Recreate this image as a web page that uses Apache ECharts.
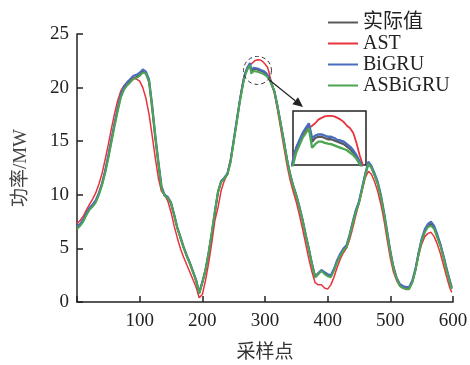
<!DOCTYPE html>
<html>
<head>
<meta charset="utf-8">
<script src="https://cdn.jsdelivr.net/npm/echarts@6/dist/echarts.min.js"></script>
</head>
<body style="margin:0;background:#fff;">
<div id="chart" style="width:470px;height:365px;"></div>
<script type="text/javascript">
// 采样点
var xs = [0,5,10,15,20,25,30,35,40,45,50,55,60,65,70,75,80,85,90,95,100,105,110,115,120,125,130,135,140,145,150,155,160,165,170,175,180,185,190,195,200,205,210,215,220,225,230,235,240,245,250,255,260,
    264,266,268,270,272,274,276,277,278,280,282,284,286,288,290,292,294,296,298,300,302,304,306,308,310,312,
    315,320,325,330,335,340,345,350,355,360,365,370,375,380,385,390,395,400,405,410,415,420,425,430,435,440,445,450,455,460,465,470,475,480,485,490,495,500,505,510,515,520,525,530,535,540,545,550,555,560,565,570,575,580,585,590,595,598];

// 实际值
var actual = [6.9,7.2,7.6,8.2,8.7,9.0,9.4,10.1,11.0,12.2,13.6,15.1,16.6,18.0,19.2,19.9,20.3,20.6,20.9,21.0,21.2,21.5,21.3,20.5,18.0,15.2,12.8,10.5,9.9,9.7,9.2,8.1,6.9,6.0,5.1,4.3,3.6,2.8,2.0,0.8,1.8,2.9,4.5,6.3,8.3,10.2,11.2,11.5,11.9,13.1,15.0,16.9,18.8,
    20.1,20.7,21.2,21.5,21.8,22.0,22.2,22.25,21.55,21.7,21.75,21.75,21.7,21.65,21.65,21.6,21.55,21.5,21.45,21.35,21.25,21.1,20.9,20.65,20.35,20.05,
    19.6,18.2,16.6,15.0,13.3,11.9,10.8,9.9,8.8,7.6,6.2,4.9,3.5,2.3,2.6,2.9,2.7,2.5,2.4,3.0,3.8,4.4,4.9,5.2,6.2,7.4,8.5,9.3,10.6,11.9,12.9,12.5,11.8,11.0,9.8,8.2,6.4,4.6,3.2,2.2,1.6,1.4,1.3,1.3,1.9,3.0,4.5,5.8,6.6,7.1,7.3,6.9,6.1,5.3,4.2,3.0,1.9,1.3];

// AST
var ast = [7.3,7.6,8.0,8.6,9.1,9.6,10.2,11.0,12.0,13.3,14.7,16.2,17.6,18.8,19.7,20.2,20.5,20.7,20.9,20.8,20.6,20.0,19.0,17.5,15.5,13.4,11.5,10.3,10.0,9.4,8.4,7.1,6.0,5.0,4.2,3.5,2.8,2.1,1.4,0.4,0.7,2.0,3.6,5.5,7.6,8.8,10.4,11.3,12.0,13.3,15.0,16.9,18.9,
    20.3,20.9,21.3,21.6,21.8,21.95,22.1,22.15,22.2,22.3,22.45,22.52,22.58,22.6,22.6,22.58,22.52,22.45,22.35,22.2,22.1,21.9,21.5,21.0,20.6,20.2,
    19.5,17.9,16.2,14.5,12.8,11.4,10.3,9.3,8.1,6.8,5.4,4.0,2.8,1.8,1.6,1.6,1.3,1.2,1.6,2.3,3.2,4.0,4.6,5.0,5.8,6.9,8.1,9.2,10.4,11.6,12.2,11.9,11.2,10.3,9.1,7.6,5.8,4.1,2.8,2.0,1.5,1.3,1.2,1.3,1.8,2.9,4.3,5.4,6.1,6.4,6.5,6.1,5.4,4.5,3.4,2.3,1.3,0.9];

// BiGRU
var bigru = [7.0,7.3,7.7,8.3,8.8,9.1,9.5,10.2,11.1,12.3,13.7,15.2,16.7,18.1,19.4,20.1,20.5,20.8,21.1,21.2,21.4,21.7,21.5,20.8,18.4,15.6,13.1,10.8,10.0,9.8,9.3,8.2,7.0,6.1,5.2,4.4,3.7,2.9,2.1,0.9,1.9,3.0,4.6,6.4,8.4,10.3,11.3,11.6,12.0,13.2,15.1,17.0,18.9,
    20.2,20.8,21.3,21.6,21.9,22.1,22.3,22.35,21.7,21.8,21.85,21.85,21.8,21.75,21.75,21.7,21.62,21.6,21.55,21.45,21.35,21.2,21.0,20.75,20.45,20.15,
    19.7,18.3,16.7,15.1,13.4,12.0,10.9,10.0,8.9,7.7,6.3,5.0,3.6,2.4,2.7,3.0,2.8,2.6,2.5,3.1,3.9,4.5,5.0,5.3,6.3,7.5,8.6,9.4,10.7,12.0,13.1,12.7,12.0,11.2,10.0,8.4,6.6,4.8,3.3,2.3,1.7,1.5,1.4,1.4,2.0,3.1,4.6,5.9,6.8,7.3,7.5,7.1,6.3,5.4,4.3,3.1,2.0,1.4];

// ASBiGRU
var asbigru = [6.8,7.1,7.5,8.1,8.6,8.9,9.3,10.0,10.9,12.0,13.4,14.9,16.4,17.8,19.1,19.8,20.2,20.5,20.8,20.9,21.1,21.4,21.3,20.6,18.2,15.4,12.9,10.6,9.9,9.7,9.2,8.1,6.9,6.0,5.1,4.3,3.6,2.8,2.0,0.8,1.8,3.0,4.6,6.5,8.5,10.3,11.2,11.5,11.9,13.0,14.9,16.8,18.7,
    20.0,20.6,21.1,21.4,21.7,21.9,22.1,22.15,21.3,21.45,21.55,21.55,21.5,21.47,21.45,21.4,21.35,21.3,21.25,21.2,21.1,21.0,20.85,20.65,20.4,20.1,
    19.6,18.2,16.6,15.0,13.3,11.9,10.8,9.9,8.8,7.6,6.2,4.9,3.5,2.3,2.6,2.9,2.6,2.4,2.3,2.9,3.7,4.3,4.8,5.1,6.1,7.3,8.4,9.2,10.5,11.8,12.9,12.5,11.8,11.0,9.8,8.2,6.4,4.6,3.2,2.2,1.5,1.3,1.2,1.2,1.8,2.9,4.4,5.7,6.5,7.0,7.1,6.8,6.0,5.2,4.1,2.9,1.8,1.2];

var names = ['实际值', 'AST', 'BiGRU', 'ASBiGRU'];
var values = [actual, ast, bigru, asbigru];
var colors = ['#5a5a5a', '#e8333b', '#4a6cc0', '#4ba551'];
var widths = [2, 1.5, 2, 2];

// 局部放大区间
var zoomX = [266, 312];
var zoomY = [20.6, 22.8];

var font = '"Liberation Serif", "Noto Sans CJK SC", serif';

function pairs(ys) {
    var out = [];
    for (var i = 0; i < xs.length; i++) out.push([xs[i], ys[i]]);
    return out;
}

var series = [];
for (var k = 0; k < names.length; k++) {
    series.push({
        name: names[k], type: 'line', xAxisIndex: 0, yAxisIndex: 0,
        data: pairs(values[k]), symbol: 'none', animation: false,
        itemStyle: {color: colors[k]},
        lineStyle: {color: colors[k], width: widths[k]}
    });
}
// 放大图里的线
for (var k = 0; k < names.length; k++) {
    series.push({
        name: names[k], type: 'line', xAxisIndex: 1, yAxisIndex: 1, z: 10,
        data: pairs(values[k]), symbol: 'none', animation: false, clip: true,
        itemStyle: {color: colors[k]},
        lineStyle: {color: colors[k], width: widths[k] + 0.3}
    });
}

var myChart = echarts.init(document.getElementById('chart'));
var option = {
    backgroundColor: '#fff',
    animation: false,
    legend: {
        orient: 'vertical', left: 322, top: 7,
        data: names,
        itemWidth: 30, itemHeight: 10, itemGap: 0,
        itemStyle: {opacity: 0},
        textStyle: {fontFamily: font, fontSize: 20, color: '#222', lineHeight: 21}
    },
    grid: [
        {left: 77, right: 17, top: 34, bottom: 63, outerBoundsMode: 'none', containLabel: false},
        {left: 293, top: 111, width: 73, height: 54, show: true, outerBoundsMode: 'none',
         borderColor: '#222', borderWidth: 1.5, backgroundColor: 'transparent'}
    ],
    xAxis: [{
        type: 'value', gridIndex: 0, min: 0, max: 600, interval: 100,
        name: '采样点', nameLocation: 'middle', nameGap: 42,
        nameTextStyle: {fontFamily: font, fontSize: 19, color: '#333'},
        axisLine: {lineStyle: {color: '#222', width: 1.5}},
        axisTick: {inside: true, length: 6, lineStyle: {color: '#222', width: 1.5}},
        axisLabel: {fontFamily: font, fontSize: 19, color: '#222', margin: 10,
            formatter: function (v) { return v === 0 ? '' : v; }},
        splitLine: {show: false}
    }, {
        type: 'value', gridIndex: 1, min: zoomX[0], max: zoomX[1], show: false
    }],
    yAxis: [{
        type: 'value', gridIndex: 0, min: 0, max: 25, interval: 5,
        name: '功率/MW', nameLocation: 'middle', nameGap: 46,
        nameTextStyle: {fontFamily: font, fontSize: 19, color: '#444'},
        axisLine: {show: true, lineStyle: {color: '#222', width: 1.5}},
        axisTick: {show: true, inside: true, length: 6, lineStyle: {color: '#222', width: 1.5}},
        axisLabel: {fontFamily: font, fontSize: 19, color: '#222', margin: 8},
        splitLine: {show: false}
    }, {
        type: 'value', gridIndex: 1, min: zoomY[0], max: zoomY[1], show: false
    }],
    series: series
};
myChart.setOption(option);

// 虚线圈 + 箭头
var c = myChart.convertToPixel({gridIndex: 0}, [288, 21.6]);
var r = 14;
var box = myChart.convertToPixel({gridIndex: 1}, [zoomX[0], zoomY[1]]);
var tip = [box[0] + 10, box[1] - 4];
var dx = tip[0] - c[0], dy = tip[1] - c[1];
var len = Math.sqrt(dx * dx + dy * dy);
var ux = dx / len, uy = dy / len;
var start = [c[0] + ux * (r + 1), c[1] + uy * (r + 1)];
var hl = 10, hw = 4.5;
var base = [tip[0] - ux * hl, tip[1] - uy * hl];
myChart.setOption({
    graphic: [
        {type: 'circle', shape: {cx: c[0], cy: c[1], r: r}, z: 100,
         style: {fill: 'none', stroke: '#333', lineWidth: 1, lineDash: [4, 3]}},
        {type: 'line', shape: {x1: start[0], y1: start[1], x2: base[0], y2: base[1]}, z: 100,
         style: {stroke: '#222', lineWidth: 1.2}},
        {type: 'polygon', z: 100,
         shape: {points: [tip, [base[0] - uy * hw, base[1] + ux * hw], [base[0] + uy * hw, base[1] - ux * hw]]},
         style: {fill: '#222'}}
    ]
});
</script>
</body>
</html>
